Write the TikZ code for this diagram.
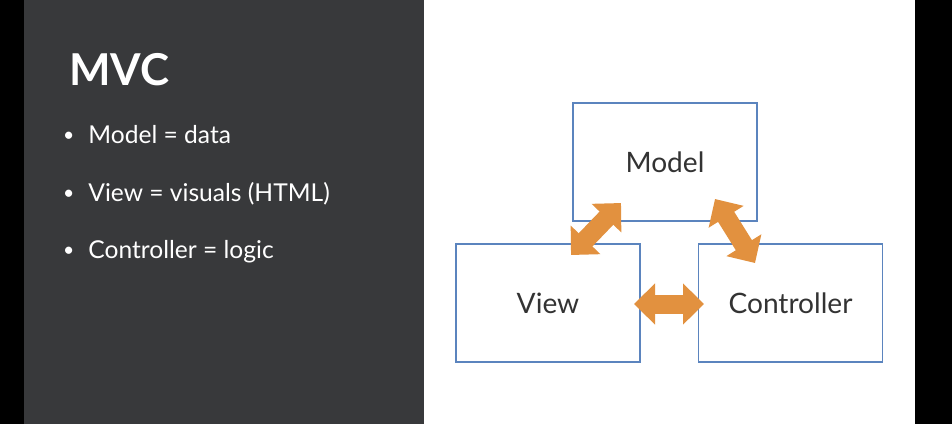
\documentclass[tikz,border=0pt]{standalone}
\usepackage{fontspec}
\setmainfont{Lato}
\usepackage{tikz}
\usetikzlibrary{arrows.meta,positioning}

\definecolor{panelgray}{HTML}{38393B}
\definecolor{boxblue}{HTML}{5B84BE}
\definecolor{arroworange}{HTML}{E2913F}

\newcommand{\dotmark}{\llap{{\fontsize{11}{12}\selectfont\raisebox{0.8pt}{•}}\hspace{8pt}}}

\begin{document}
\begin{tikzpicture}[x=0.02cm,y=-0.02cm]
	\tikzset{box/.style = {draw = boxblue, line width = 0.7pt, minimum width = 3.68cm, minimum height = 2.36cm, font = \fontsize{16}{18}\selectfont, text = black!80}}
	\tikzset{bullet/.style = {anchor = base west, text = white, inner sep = 0, font = \fontsize{14}{16}\selectfont}}
	\tikzset{link/.style = {draw = arroworange, line width = 0.38cm, {Triangle[length = 0.42cm, width = 0.8cm]}-{Triangle[length = 0.42cm, width = 0.8cm]}}}
	% background
	\fill[black] (0,0) rectangle (952,424);
	\fill[panelgray] (24,0) rectangle (424,424);
	\fill[white] (424,0) rectangle (915,424);
	% left panel
	\node[anchor = base west, text = white, font = \fontsize{25}{28}\selectfont\bfseries, inner sep = 0] (title) at (69,85) {MVC};
	\node[bullet] (b1) at (88,143) {\dotmark Model = data};
	\node[bullet] (b2) at (88,201) {\dotmark View = visuals (HTML)};
	\node[bullet] (b3) at (88,258) {\dotmark Controller = logic};
	% boxes
	\node[box] (model) at (665,162) {Model};
	\node[box] (view) at (548,303) {View};
	\node[box] (ctrl) at (790.5,303) {Controller};
	% arrows
	\coordinate (vm1) at (571,255);
	\coordinate (vm2) at (621,203);
	\coordinate (mc1) at (715,199);
	\coordinate (mc2) at (755,263);
	\coordinate (vc1) at (634,304);
	\coordinate (vc2) at (704,304);
	\path[link] (vm1) -- (vm2);
	\path[link] (mc1) -- (mc2);
	\path[link] (vc1) -- (vc2);
\end{tikzpicture}
\end{document}
